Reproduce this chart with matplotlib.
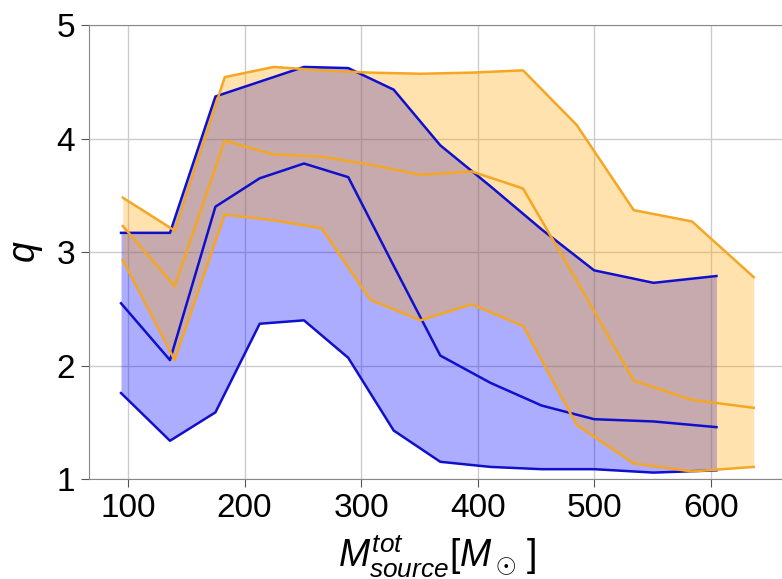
import numpy as np
import matplotlib
matplotlib.use("Agg")
import matplotlib.pyplot as plt

plt.rcParams["font.family"] = ["Liberation Sans", "DejaVu Sans"]
plt.rcParams["mathtext.fontset"] = "custom"
plt.rcParams["mathtext.rm"] = "Liberation Sans"
plt.rcParams["mathtext.it"] = "Liberation Sans:italic"

# =========================
# DATA
# =========================

blue_mass = [94, 136, 175, 213, 251, 289, 328, 368, 411, 455, 500, 551, 605]
blue_upper = [3.17, 3.17, 4.37, 4.50, 4.63, 4.62, 4.43, 3.94, 3.58, 3.20, 2.84, 2.73, 2.79]
blue_median = [2.55, 2.05, 3.40, 3.65, 3.78, 3.66, 2.88, 2.09, 1.85, 1.65, 1.53, 1.51, 1.46]
blue_lower = [1.76, 1.34, 1.59, 2.37, 2.40, 2.07, 1.43, 1.155, 1.11, 1.09, 1.09, 1.06, 1.08]

orange_mass = [95.5, 140, 183, 225, 266, 308, 351, 395, 439, 485, 534, 584, 637]
orange_upper = [3.48, 3.19, 4.54, 4.63, 4.60, 4.58, 4.57, 4.58, 4.60, 4.12, 3.37, 3.27, 2.78]
orange_median = [3.23, 2.70, 3.98, 3.86, 3.84, 3.77, 3.68, 3.71, 3.56, 2.75, 1.87, 1.70, 1.63]
orange_lower = [2.93, 2.05, 3.33, 3.28, 3.21, 2.58, 2.40, 2.54, 2.35, 1.48, 1.14, 1.07, 1.11]

# =========================
# PLOTTING
# =========================

fig = plt.figure(figsize=(7.82, 5.79), dpi=100)
ax = fig.add_axes([0.1138, 0.172, 0.89, 0.785])

ax.fill_between(blue_mass, blue_lower, blue_upper, color="blue", alpha=0.32, lw=0)
ax.fill_between(orange_mass, orange_lower, orange_upper, color="orange", alpha=0.32, lw=0)

for ys in (blue_upper, blue_median, blue_lower):
    ax.plot(blue_mass, ys, color="#1010cc", lw=1.8)
for ys in (orange_upper, orange_median, orange_lower):
    ax.plot(orange_mass, ys, color="#f5a623", lw=1.8)

ax.set_xlim(66.5, 663.8)
ax.set_ylim(1, 5)
ax.set_xticks([100, 200, 300, 400, 500, 600])
ax.set_yticks([1, 2, 3, 4, 5])

ax.grid(True, color="#cccccc", lw=1.0)
ax.set_axisbelow(True)
for side in ("left", "bottom", "top", "right"):
    ax.spines[side].set_color("#888888")
ax.tick_params(axis="both", labelsize=24, length=6, color="#555555", pad=4)

ax.set_xlabel(r"$M^{tot}_{source}[M_\odot\,]$", fontsize=27, labelpad=6)
ax.set_ylabel(r"$q$", fontsize=27, labelpad=8)

fig.savefig("out.png", dpi=100)
